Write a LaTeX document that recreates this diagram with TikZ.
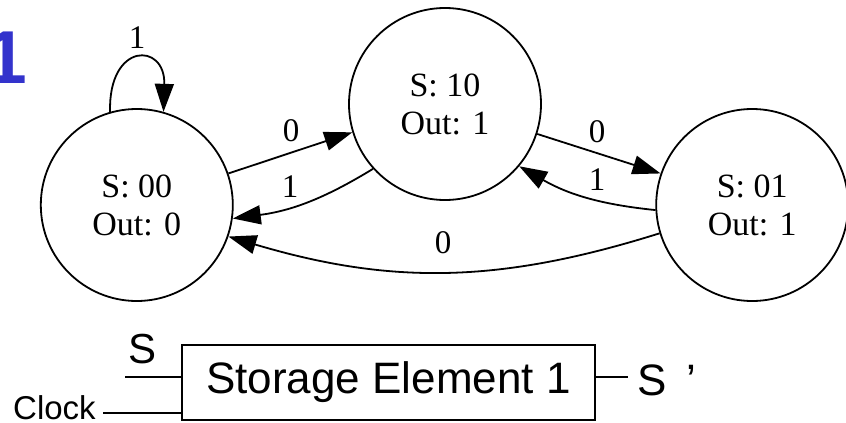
\documentclass[tikz,border=0pt]{standalone}
\usepackage{fontspec}
\setmainfont{Liberation Serif}
\setsansfont{Liberation Sans}
\usetikzlibrary{arrows.meta, positioning}
\definecolor{titleblue}{RGB}{51,51,204}
\tikzset{
    state/.style={circle, draw=black, line width=1.8pt, minimum size=192pt, inner sep=0pt, align=center, font=\fontsize{34}{38}\selectfont},
    edgelabel/.style={inner sep=0pt, font=\fontsize{33}{36}\selectfont},
    arrow/.style={line width=1.8pt, -{Triangle[length=28pt, width=19pt]}},
    wire/.style={line width=2pt},
    signal/.style={inner sep=0pt, font=\sffamily\fontsize{42}{46}\selectfont},
    storage/.style={rectangle, draw=black, line width=2.2pt, minimum width=413pt, minimum height=75pt, font=\sffamily\fontsize{44}{48}\selectfont}
}
\begin{document}
\begin{tikzpicture}[x=1pt, y=1pt]
    \useasboundingbox (0,0) rectangle (846,-423);
    % digit cut by the page edge
    \node (fig) [anchor=base west, inner sep=0pt, text=titleblue, font=\sffamily\bfseries\fontsize{75}{80}\selectfont] at (-15,-83) {1};

    % states
    \node (s10) [state] at (445,-104) {S: 10\\Out: 1};
    \node (s00) [state, left=114.4pt of s10, yshift=-101pt] {S: 00\\Out: 0};
    \node (s01) [state, right=113.4pt of s10, yshift=-101pt] {S: 01\\Out: 1};

    % transitions
    \draw [arrow] (s00.106) .. controls +(-2,70) and +(2,70) .. (s00.74);
    \draw [arrow] (s00.19) -- (s10.197);
    \draw [arrow] (s10.222) to[bend left=12] (s00.-8);
    \draw [arrow] (s10.-18) -- (s01.161);
    \draw [arrow] (s01.183) to[bend left=12] (s10.-40);
    \draw [arrow] (s01.197) to[bend left=17] (s00.-19);

    % transition labels
    \node (loop1) [edgelabel] at (137,-38) {1};
    \node (up0) [edgelabel] at (291,-131) {0};
    \node (back1) [edgelabel] at (290,-187) {1};
    \node (down0) [edgelabel] at (597,-132) {0};
    \node (ret1) [edgelabel] at (597,-180) {1};
    \node (home0) [edgelabel] at (443,-243) {0};

    % storage element
    \node (store) [storage] at (388.5,-382.5) {Storage Element 1};
    \coordinate (sin) at (125,-377);
    \coordinate (clkin) at (103,-413);
    \coordinate (sout) at (628,-377);
    \draw [wire] (sin) -- (sin -| store.west);
    \draw [wire] (clkin) -- (clkin -| store.west);
    \draw [wire] (sout -| store.east) -- (sout);
    \node (sname) [signal, anchor=base] at (143,-363) {S};
    \node (clock) [signal, anchor=base west, font=\sffamily\fontsize{33}{36}\selectfont] at (13,-419) {Clock};
    \node (snext) [signal, anchor=base west, font=\sffamily\fontsize{44}{48}\selectfont] at (637,-395) {S\hspace{0.45em}’};
\end{tikzpicture}
\end{document}
